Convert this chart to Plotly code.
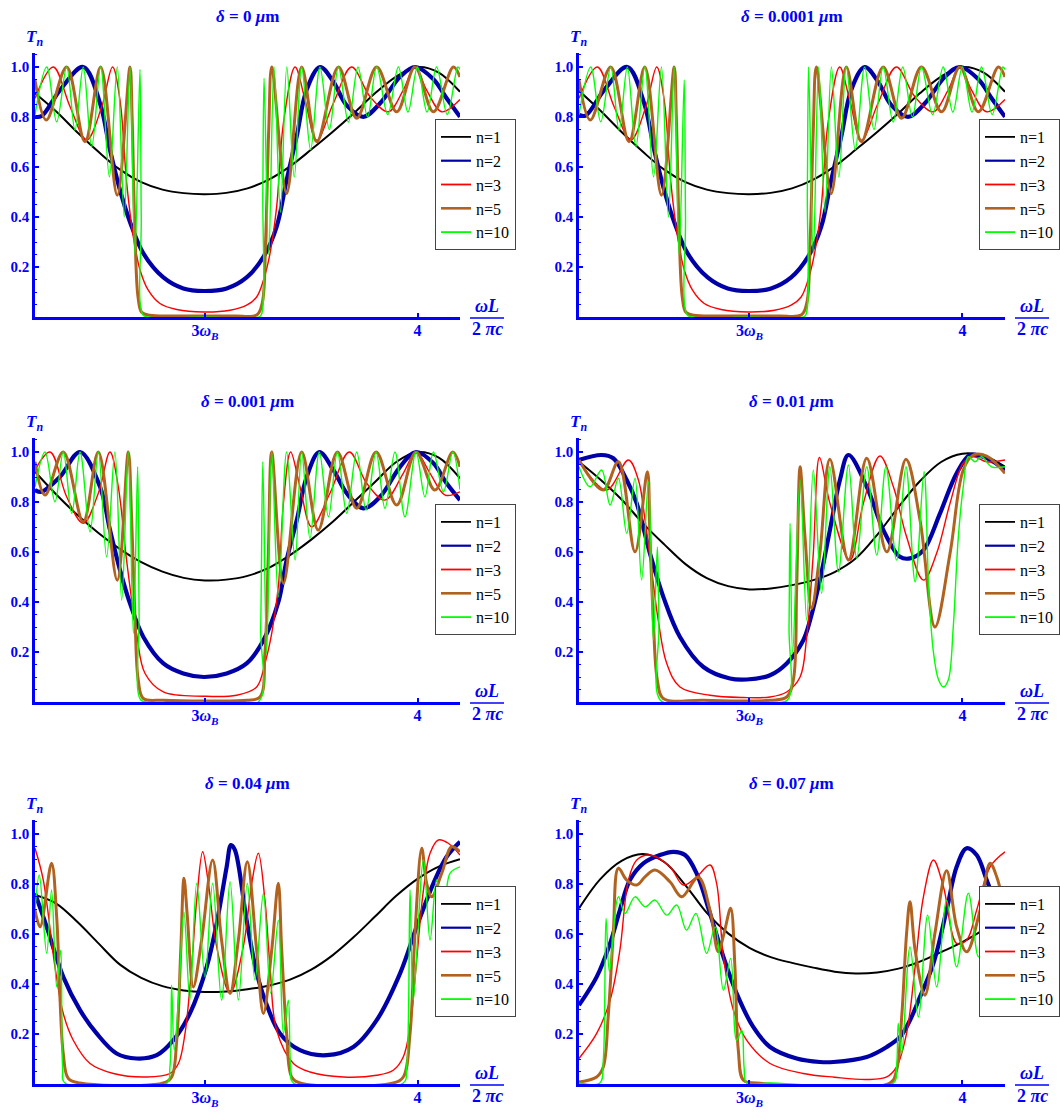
import plotly.graph_objects as go

# ---------------- data: T_n versus omega*L/(2*pi*c) ----------------
# x tick "3ω_B" sits at 3.0, tick "4" at 4.0

grid_x = [2.2, 2.3, 2.4, 2.5, 2.6, 2.7, 2.8, 2.9, 3.0, 3.1, 3.2, 3.3, 3.4, 3.5, 3.6, 3.7, 3.8, 3.9, 4.0, 4.1, 4.2]

# ----- delta = 0 um -----
d0_n1_x = grid_x
d0_n1_t = [0.895, 0.822, 0.738, 0.660, 0.590, 0.540, 0.510, 0.496, 0.492, 0.497, 0.515, 0.550, 0.603, 0.670, 0.740, 0.815, 0.895, 0.962, 1.000, 0.978, 0.901]
d0_n2_x = [2.200, 2.231, 2.318, 2.427, 2.506, 2.553, 2.600, 2.647, 2.710, 2.804, 2.898, 2.995, 3.102, 3.196, 3.275, 3.337, 3.384, 3.431, 3.478, 3.541, 3.604, 3.666, 3.745, 3.824, 3.918, 3.988, 4.075, 4.137, 4.200]
d0_n2_t = [0.801, 0.804, 0.908, 1.000, 0.855, 0.668, 0.508, 0.381, 0.255, 0.159, 0.115, 0.105, 0.115, 0.159, 0.241, 0.361, 0.548, 0.721, 0.908, 1.000, 0.941, 0.848, 0.801, 0.855, 0.961, 1.000, 0.951, 0.875, 0.801]
d0_n3_x = [2.200, 2.286, 2.365, 2.443, 2.514, 2.565, 2.600, 2.631, 2.663, 2.694, 2.733, 2.788, 2.867, 2.995, 3.118, 3.196, 3.243, 3.275, 3.306, 3.337, 3.369, 3.424, 3.471, 3.526, 3.604, 3.690, 3.777, 3.863, 3.933, 3.988, 4.043, 4.114, 4.200]
d0_n3_t = [0.875, 1.000, 0.841, 0.708, 0.841, 1.000, 0.868, 0.540, 0.320, 0.190, 0.108, 0.055, 0.031, 0.021, 0.028, 0.048, 0.081, 0.148, 0.255, 0.440, 0.775, 1.000, 0.868, 0.708, 0.855, 1.000, 0.881, 0.821, 0.908, 1.000, 0.908, 0.821, 0.870]
d0_n5_x = [2.200, 2.253, 2.349, 2.435, 2.509, 2.587, 2.647, 2.657, 2.670, 2.685, 2.702, 2.740, 2.850, 2.995, 3.140, 3.245, 3.270, 3.285, 3.300, 3.314, 3.384, 3.455, 3.526, 3.628, 3.714, 3.808, 3.902, 3.988, 4.075, 4.169, 4.200]
d0_n5_t = [0.948, 0.788, 1.000, 0.701, 1.000, 0.488, 1.000, 0.800, 0.350, 0.080, 0.020, 0.008, 0.005, 0.005, 0.005, 0.010, 0.060, 0.300, 0.750, 1.000, 0.495, 1.000, 0.701, 1.000, 0.795, 1.000, 0.821, 1.000, 0.821, 1.000, 0.960]
d0_n10_x = [2.200, 2.255, 2.302, 2.349, 2.388, 2.427, 2.467, 2.509, 2.550, 2.587, 2.620, 2.647, 2.670, 2.694, 2.700, 2.708, 2.740, 2.995, 3.250, 3.265, 3.272, 3.278, 3.300, 3.325, 3.355, 3.385, 3.420, 3.455, 3.497, 3.541, 3.585, 3.628, 3.675, 3.720, 3.765, 3.808, 3.860, 3.910, 3.955, 4.000, 4.045, 4.090, 4.140, 4.190, 4.200]
d0_n10_t = [0.810, 1.000, 0.781, 1.000, 0.748, 1.000, 0.681, 1.000, 0.561, 1.000, 0.401, 1.000, 0.250, 0.990, 0.400, 0.010, 0.000, 0.000, 0.000, 0.010, 0.500, 0.955, 0.250, 1.000, 0.420, 1.000, 0.560, 1.000, 0.670, 1.000, 0.750, 1.000, 0.780, 1.000, 0.800, 1.000, 0.810, 1.000, 0.820, 1.000, 0.820, 1.000, 0.810, 1.000, 0.990]

# ----- delta = 0.0001 um -----
d1_n1_x = grid_x
d1_n1_t = [0.905, 0.826, 0.740, 0.661, 0.590, 0.540, 0.510, 0.496, 0.492, 0.497, 0.515, 0.550, 0.603, 0.670, 0.740, 0.815, 0.895, 0.962, 1.000, 0.978, 0.901]
d1_n2_x = d0_n2_x
d1_n2_t = [0.808, 0.806, 0.908, 1.000, 0.855, 0.668, 0.508, 0.381, 0.255, 0.159, 0.115, 0.105, 0.115, 0.159, 0.241, 0.361, 0.548, 0.721, 0.908, 1.000, 0.941, 0.848, 0.801, 0.855, 0.961, 1.000, 0.951, 0.875, 0.801]
d1_n3_x = d0_n3_x
d1_n3_t = d0_n3_t
d1_n5_x = d0_n5_x
d1_n5_t = d0_n5_t
d1_n10_x = d0_n10_x
d1_n10_t = [0.810, 1.000, 0.781, 1.000, 0.748, 1.000, 0.681, 1.000, 0.561, 1.000, 0.401, 1.000, 0.250, 0.948, 0.400, 0.010, 0.000, 0.000, 0.000, 0.010, 0.500, 1.000, 0.250, 1.000, 0.420, 1.000, 0.560, 1.000, 0.670, 1.000, 0.750, 1.000, 0.780, 1.000, 0.800, 1.000, 0.810, 1.000, 0.820, 1.000, 0.820, 1.000, 0.810, 1.000, 0.990]

# ----- delta = 0.001 um -----
d2_n1_x = grid_x
d2_n1_t = [0.921, 0.830, 0.748, 0.675, 0.612, 0.560, 0.522, 0.497, 0.487, 0.490, 0.505, 0.537, 0.588, 0.650, 0.720, 0.800, 0.880, 0.960, 1.000, 0.978, 0.895]
d2_n2_x = [2.200, 2.231, 2.318, 2.412, 2.506, 2.553, 2.600, 2.647, 2.710, 2.804, 2.898, 2.995, 3.102, 3.196, 3.275, 3.345, 3.384, 3.432, 3.479, 3.538, 3.604, 3.667, 3.745, 3.824, 3.918, 3.993, 4.075, 4.137, 4.200]
d2_n2_t = [0.848, 0.841, 0.901, 1.000, 0.861, 0.688, 0.528, 0.395, 0.261, 0.155, 0.115, 0.101, 0.115, 0.155, 0.248, 0.400, 0.568, 0.728, 0.901, 1.000, 0.928, 0.835, 0.775, 0.821, 0.941, 1.000, 0.955, 0.875, 0.808]
d2_n3_x = [2.200, 2.271, 2.349, 2.427, 2.498, 2.553, 2.592, 2.631, 2.678, 2.718, 2.804, 2.995, 3.149, 3.243, 3.282, 3.314, 3.345, 3.369, 3.403, 3.447, 3.502, 3.588, 3.679, 3.761, 3.847, 3.933, 3.993, 4.059, 4.130, 4.200]
d2_n3_t = [0.928, 1.000, 0.821, 0.715, 0.835, 1.000, 0.861, 0.568, 0.275, 0.115, 0.041, 0.024, 0.028, 0.061, 0.155, 0.275, 0.461, 0.795, 1.000, 0.861, 0.701, 0.835, 1.000, 0.875, 0.808, 0.915, 1.000, 0.915, 0.828, 0.841]
d2_n5_x = [2.200, 2.247, 2.333, 2.427, 2.498, 2.587, 2.639, 2.655, 2.671, 2.686, 2.710, 2.804, 2.995, 3.196, 3.259, 3.282, 3.298, 3.314, 3.369, 3.455, 3.533, 3.623, 3.714, 3.805, 3.902, 3.993, 4.082, 4.166, 4.200]
d2_n5_t = [0.961, 0.828, 1.000, 0.721, 1.000, 0.488, 1.000, 0.728, 0.328, 0.088, 0.015, 0.008, 0.005, 0.008, 0.021, 0.195, 0.595, 1.000, 0.475, 1.000, 0.688, 1.000, 0.775, 1.000, 0.788, 1.000, 0.848, 1.000, 0.941]
d2_n10_x = [2.200, 2.247, 2.294, 2.333, 2.373, 2.412, 2.459, 2.498, 2.537, 2.576, 2.608, 2.639, 2.663, 2.683, 2.690, 2.697, 2.740, 2.995, 3.250, 3.262, 3.272, 3.290, 3.314, 3.345, 3.384, 3.424, 3.455, 3.494, 3.538, 3.581, 3.623, 3.667, 3.714, 3.758, 3.805, 3.847, 3.894, 3.941, 3.993, 4.035, 4.075, 4.122, 4.166, 4.200]
d2_n10_t = [0.861, 1.000, 0.801, 1.000, 0.755, 1.000, 0.681, 1.000, 0.581, 1.000, 0.408, 1.000, 0.275, 0.941, 0.350, 0.010, 0.000, 0.000, 0.000, 0.300, 0.961, 0.195, 1.000, 0.421, 1.000, 0.568, 1.000, 0.655, 1.000, 0.741, 1.000, 0.755, 1.000, 0.768, 1.000, 0.775, 1.000, 0.741, 1.000, 0.821, 1.000, 0.841, 1.000, 0.850]

# ----- delta = 0.01 um -----
d3_n1_x = grid_x
d3_n1_t = [0.961, 0.890, 0.810, 0.715, 0.631, 0.552, 0.496, 0.464, 0.451, 0.455, 0.468, 0.488, 0.520, 0.575, 0.669, 0.780, 0.883, 0.960, 0.993, 0.985, 0.941]
d3_n2_x = [2.200, 2.306, 2.361, 2.424, 2.471, 2.533, 2.596, 2.674, 2.784, 2.909, 2.987, 3.097, 3.175, 3.253, 3.285, 3.331, 3.378, 3.425, 3.465, 3.551, 3.629, 3.707, 3.754, 3.817, 3.895, 3.973, 4.036, 4.098, 4.145, 4.200]
d3_n2_t = [0.968, 0.988, 0.975, 0.888, 0.795, 0.595, 0.421, 0.261, 0.141, 0.095, 0.091, 0.108, 0.155, 0.248, 0.328, 0.488, 0.688, 0.888, 0.988, 0.861, 0.688, 0.581, 0.575, 0.608, 0.755, 0.915, 0.988, 0.981, 0.961, 0.928]
d3_n3_x = [2.200, 2.330, 2.432, 2.479, 2.510, 2.541, 2.572, 2.612, 2.674, 2.815, 2.972, 3.097, 3.175, 3.238, 3.269, 3.300, 3.329, 3.378, 3.472, 3.535, 3.613, 3.676, 3.738, 3.817, 3.879, 3.942, 4.004, 4.051, 4.114, 4.200]
d3_n3_t = [0.968, 0.848, 0.968, 0.888, 0.728, 0.528, 0.328, 0.155, 0.061, 0.028, 0.019, 0.021, 0.041, 0.101, 0.261, 0.595, 0.978, 0.795, 0.568, 0.795, 0.984, 0.861, 0.661, 0.488, 0.595, 0.795, 0.955, 0.981, 0.961, 0.968]
d3_n5_x = [2.200, 2.314, 2.385, 2.463, 2.521, 2.533, 2.549, 2.568, 2.596, 2.784, 3.097, 3.175, 3.206, 3.222, 3.238, 3.261, 3.292, 3.331, 3.378, 3.465, 3.551, 3.645, 3.735, 3.801, 3.871, 3.942, 4.004, 4.051, 4.114, 4.200]
d3_n5_t = [0.968, 0.848, 0.961, 0.601, 0.921, 0.661, 0.328, 0.088, 0.015, 0.008, 0.008, 0.021, 0.088, 0.461, 0.941, 0.661, 0.375, 0.595, 0.971, 0.568, 0.975, 0.601, 0.971, 0.728, 0.301, 0.595, 0.928, 0.988, 0.984, 0.915]
d3_n10_x = [2.200, 2.252, 2.306, 2.346, 2.385, 2.424, 2.463, 2.494, 2.526, 2.549, 2.568, 2.575, 2.582, 2.700, 3.100, 3.180, 3.186, 3.191, 3.203, 3.238, 3.269, 3.300, 3.339, 3.378, 3.418, 3.465, 3.504, 3.551, 3.598, 3.641, 3.691, 3.735, 3.778, 3.820, 3.842, 3.864, 3.888, 3.911, 3.934, 3.957, 3.980, 4.004, 4.028, 4.059, 4.090, 4.137, 4.200]
d3_n10_t = [0.941, 0.861, 0.928, 0.788, 0.895, 0.675, 0.895, 0.488, 0.881, 0.248, 0.621, 0.300, 0.008, 0.000, 0.000, 0.010, 0.300, 0.715, 0.195, 0.888, 0.328, 0.928, 0.435, 0.941, 0.521, 0.948, 0.575, 0.941, 0.588, 0.941, 0.568, 0.941, 0.481, 0.921, 0.450, 0.200, 0.090, 0.061, 0.090, 0.300, 0.650, 0.861, 0.981, 0.961, 0.981, 0.941, 0.941]

# ----- delta = 0.04 um -----
d4_n1_x = grid_x
d4_n1_t = [0.756, 0.722, 0.648, 0.562, 0.478, 0.425, 0.392, 0.375, 0.369, 0.371, 0.380, 0.394, 0.418, 0.458, 0.515, 0.588, 0.670, 0.753, 0.821, 0.870, 0.899]
d4_n2_x = [2.200, 2.255, 2.333, 2.412, 2.490, 2.584, 2.678, 2.773, 2.851, 2.929, 3.008, 3.055, 3.102, 3.122, 3.141, 3.195, 3.242, 3.285, 3.353, 3.447, 3.573, 3.698, 3.808, 3.918, 3.996, 4.075, 4.137, 4.200]
d4_n2_t = [0.763, 0.629, 0.429, 0.296, 0.203, 0.123, 0.103, 0.116, 0.176, 0.283, 0.469, 0.643, 0.869, 0.956, 0.936, 0.660, 0.450, 0.330, 0.203, 0.136, 0.116, 0.149, 0.256, 0.443, 0.629, 0.803, 0.909, 0.969]
d4_n3_x = [2.200, 2.239, 2.294, 2.333, 2.380, 2.459, 2.569, 2.725, 2.835, 2.875, 2.906, 2.937, 2.961, 2.989, 3.016, 3.055, 3.118, 3.180, 3.220, 3.251, 3.282, 3.306, 3.337, 3.416, 3.494, 3.651, 3.808, 3.886, 3.933, 3.965, 3.996, 4.028, 4.059, 4.098, 4.145, 4.200]
d4_n3_t = [0.943, 0.816, 0.469, 0.283, 0.176, 0.083, 0.043, 0.029, 0.043, 0.083, 0.203, 0.469, 0.736, 0.929, 0.803, 0.549, 0.363, 0.549, 0.803, 0.923, 0.736, 0.469, 0.216, 0.083, 0.049, 0.029, 0.036, 0.056, 0.109, 0.229, 0.496, 0.776, 0.923, 0.976, 0.963, 0.916]
d4_n5_x = [2.200, 2.224, 2.278, 2.302, 2.318, 2.333, 2.357, 2.412, 2.804, 2.843, 2.867, 2.886, 2.901, 2.917, 2.945, 2.984, 3.036, 3.078, 3.118, 3.157, 3.199, 3.243, 3.275, 3.314, 3.345, 3.361, 3.384, 3.408, 3.447, 3.886, 3.933, 3.965, 3.988, 4.020, 4.043, 4.067, 4.114, 4.161, 4.200]
d4_n5_t = [0.696, 0.629, 0.883, 0.669, 0.336, 0.123, 0.023, 0.005, 0.005, 0.029, 0.176, 0.536, 0.823, 0.669, 0.389, 0.576, 0.896, 0.576, 0.363, 0.576, 0.889, 0.536, 0.283, 0.536, 0.803, 0.536, 0.203, 0.029, 0.005, 0.005, 0.029, 0.203, 0.603, 0.943, 0.803, 0.749, 0.843, 0.949, 0.929]
d4_n10_x = [2.200, 2.220, 2.255, 2.278, 2.302, 2.321, 2.330, 2.341, 2.820, 2.835, 2.843, 2.855, 2.875, 2.901, 2.929, 2.961, 3.000, 3.036, 3.078, 3.118, 3.157, 3.199, 3.235, 3.275, 3.309, 3.345, 3.369, 3.392, 3.403, 3.416, 3.933, 3.949, 3.965, 3.980, 4.028, 4.059, 4.090, 4.122, 4.153, 4.200]
d4_n10_t = [0.696, 0.836, 0.523, 0.776, 0.389, 0.536, 0.069, 0.005, 0.005, 0.069, 0.396, 0.136, 0.336, 0.689, 0.336, 0.803, 0.429, 0.803, 0.336, 0.809, 0.336, 0.803, 0.416, 0.763, 0.363, 0.656, 0.203, 0.336, 0.069, 0.005, 0.005, 0.069, 0.776, 0.336, 0.896, 0.576, 0.816, 0.669, 0.843, 0.869]

# ----- delta = 0.07 um -----
d5_n1_x = grid_x
d5_n1_t = [0.703, 0.820, 0.893, 0.920, 0.888, 0.795, 0.685, 0.603, 0.545, 0.508, 0.485, 0.466, 0.450, 0.443, 0.447, 0.462, 0.490, 0.528, 0.568, 0.617, 0.660]
d5_n2_x = [2.200, 2.283, 2.346, 2.392, 2.439, 2.502, 2.580, 2.643, 2.698, 2.752, 2.815, 2.878, 2.940, 3.018, 3.097, 3.222, 3.331, 3.394, 3.551, 3.645, 3.707, 3.754, 3.801, 3.864, 3.926, 3.973, 4.020, 4.067, 4.114, 4.161, 4.200]
d5_n2_t = [0.316, 0.429, 0.563, 0.696, 0.816, 0.883, 0.916, 0.929, 0.916, 0.843, 0.683, 0.509, 0.363, 0.229, 0.149, 0.103, 0.089, 0.089, 0.109, 0.149, 0.189, 0.256, 0.349, 0.483, 0.696, 0.869, 0.943, 0.916, 0.816, 0.709, 0.629]
d5_n3_x = [2.200, 2.283, 2.346, 2.392, 2.432, 2.471, 2.533, 2.627, 2.690, 2.752, 2.815, 2.846, 2.878, 2.925, 2.987, 3.097, 3.253, 3.400, 3.551, 3.645, 3.691, 3.738, 3.778, 3.817, 3.864, 3.911, 3.973, 4.020, 4.067, 4.130, 4.200]
d5_n3_t = [0.103, 0.203, 0.336, 0.536, 0.816, 0.896, 0.916, 0.869, 0.796, 0.829, 0.876, 0.803, 0.509, 0.296, 0.176, 0.083, 0.043, 0.028, 0.019, 0.029, 0.069, 0.203, 0.469, 0.749, 0.896, 0.789, 0.563, 0.576, 0.696, 0.869, 0.929]
d5_n5_x = [2.200, 2.283, 2.314, 2.337, 2.361, 2.385, 2.424, 2.471, 2.510, 2.557, 2.627, 2.682, 2.760, 2.815, 2.854, 2.881, 2.912, 2.932, 2.948, 2.972, 3.034, 3.660, 3.691, 3.715, 3.738, 3.754, 3.778, 3.824, 3.871, 3.926, 3.973, 4.020, 4.083, 4.130, 4.161, 4.200]
d5_n5_t = [0.009, 0.029, 0.069, 0.269, 0.603, 0.863, 0.816, 0.796, 0.829, 0.856, 0.809, 0.749, 0.827, 0.696, 0.529, 0.603, 0.703, 0.469, 0.136, 0.016, 0.005, 0.005, 0.056, 0.269, 0.603, 0.729, 0.536, 0.356, 0.603, 0.853, 0.629, 0.529, 0.696, 0.883, 0.829, 0.696]
d5_n10_x = [2.200, 2.298, 2.314, 2.327, 2.343, 2.385, 2.416, 2.463, 2.510, 2.557, 2.612, 2.659, 2.705, 2.749, 2.799, 2.839, 2.878, 2.912, 2.940, 2.964, 2.975, 2.987, 3.097, 3.676, 3.691, 3.699, 3.715, 3.754, 3.793, 3.837, 3.879, 3.926, 3.973, 4.028, 4.075, 4.122, 4.161, 4.200]
d5_n10_t = [0.005, 0.005, 0.096, 0.663, 0.450, 0.749, 0.683, 0.749, 0.709, 0.736, 0.676, 0.716, 0.616, 0.683, 0.523, 0.629, 0.376, 0.503, 0.176, 0.216, 0.069, 0.005, 0.005, 0.005, 0.069, 0.243, 0.123, 0.549, 0.269, 0.676, 0.389, 0.736, 0.469, 0.763, 0.509, 0.736, 0.536, 0.696]

deltas = ["0", "0.0001", "0.001", "0.01", "0.04", "0.07"]
n_labels = ["n=1", "n=2", "n=3", "n=5", "n=10"]
x_tick_vals = [3.0, 4.0]
x_tick_text = ["<b>3<i>ω</i><sub><i>B</i></sub></b>", "<b>4</b>"]

curves = [
    [(d0_n1_x, d0_n1_t), (d0_n2_x, d0_n2_t), (d0_n3_x, d0_n3_t), (d0_n5_x, d0_n5_t), (d0_n10_x, d0_n10_t)],
    [(d1_n1_x, d1_n1_t), (d1_n2_x, d1_n2_t), (d1_n3_x, d1_n3_t), (d1_n5_x, d1_n5_t), (d1_n10_x, d1_n10_t)],
    [(d2_n1_x, d2_n1_t), (d2_n2_x, d2_n2_t), (d2_n3_x, d2_n3_t), (d2_n5_x, d2_n5_t), (d2_n10_x, d2_n10_t)],
    [(d3_n1_x, d3_n1_t), (d3_n2_x, d3_n2_t), (d3_n3_x, d3_n3_t), (d3_n5_x, d3_n5_t), (d3_n10_x, d3_n10_t)],
    [(d4_n1_x, d4_n1_t), (d4_n2_x, d4_n2_t), (d4_n3_x, d4_n3_t), (d4_n5_x, d4_n5_t), (d4_n10_x, d4_n10_t)],
    [(d5_n1_x, d5_n1_t), (d5_n2_x, d5_n2_t), (d5_n3_x, d5_n3_t), (d5_n5_x, d5_n5_t), (d5_n10_x, d5_n10_t)],
]

# ---------------- styling ----------------
W, H = 1060, 1112
BLUE = "#0000FF"
SERIF = "Liberation Serif"
line_colors = ["#000000", "#0000A8", "#FF0000", "#B0621E", "#00FF00"]
line_widths = [2.0, 4.2, 1.4, 3.0, 1.4]
legend_widths = [1.8, 2.2, 1.8, 2.6, 1.8]

col_px = [(35, 460), (579, 1005)]          # plot area left/right in pixels
row_px = [317, 702, 1084]                   # x-axis line (T=0) in pixels
PX_PER_UNIT = 250.0
Y_TOP = 1.056

def px_x(p):
    return p / W

def px_y(p):
    return (H - p) / H

fig = go.Figure()
layout = dict(
    width=W, height=H,
    margin=dict(l=0, r=0, t=0, b=0, autoexpand=False),
    paper_bgcolor="white", plot_bgcolor="white",
    showlegend=True,
)
annotations = []
shapes = []

for i in range(6):
    r, c = divmod(i, 2)
    k = i + 1
    sfx = "" if k == 1 else str(k)
    x0p, x1p = col_px[c]
    y0p = row_px[r]
    y1p = y0p - Y_TOP * PX_PER_UNIT
    leg = "legend" if k == 1 else "legend%d" % k

    for j in range(5):
        xs, ts = curves[i][j]
        fig.add_trace(go.Scatter(
            x=xs, y=ts, mode="lines", name=n_labels[j], showlegend=False,
            line=dict(color=line_colors[j], width=line_widths[j], shape="spline", smoothing=1.0),
            xaxis="x" + sfx, yaxis="y" + sfx, hoverinfo="skip",
        ))
    for j in range(5):
        # legend entries (thin sample lines, as in the reference key)
        fig.add_trace(go.Scatter(
            x=[None], y=[None], mode="lines", name=n_labels[j], showlegend=True,
            line=dict(color=line_colors[j], width=legend_widths[j]),
            xaxis="x" + sfx, yaxis="y" + sfx, legend=leg, hoverinfo="skip",
        ))

    layout["xaxis" + sfx] = dict(
        domain=[px_x(x0p), px_x(x1p)], anchor="y" + sfx, range=[2.2, 4.2],
        showline=True, linecolor=BLUE, linewidth=3, mirror=False,
        showgrid=False, zeroline=False,
        tickmode="array", tickvals=x_tick_vals, ticktext=x_tick_text,
        ticks="inside", ticklen=4, tickwidth=2, tickcolor=BLUE,
        ticklabelstandoff=-3,
        tickfont=dict(family=SERIF, size=16, color=BLUE, weight="bold"),
    )
    layout["yaxis" + sfx] = dict(
        domain=[px_y(y0p), px_y(y1p)], anchor="x" + sfx, range=[0.001, Y_TOP],
        showline=True, linecolor=BLUE, linewidth=2.5,
        showgrid=False, zeroline=False,
        tickmode="linear", tick0=0.2, dtick=0.2, tickformat=".1f",
        ticks="inside", ticklen=4, tickwidth=1.5, tickcolor=BLUE,
        tickfont=dict(family=SERIF, size=15, color=BLUE, weight="bold"),
        minor=dict(tickmode="linear", tick0=0, dtick=0.05, ticks="inside",
                   ticklen=2.5, tickwidth=1.2, tickcolor=BLUE, showgrid=False),
    )

    layout[leg] = dict(
        x=px_x(x1p - 25 if c == 0 else x1p - 26), y=px_y(y0p - 198),
        xanchor="left", yanchor="top",
        bgcolor="white", bordercolor="#444444", borderwidth=1,
        font=dict(family=SERIF, size=16, color="black"),
        tracegroupgap=0, itemwidth=30,
    )

    xc = (x0p + x1p) / 2
    annotations.append(dict(
        xref="paper", yref="paper", x=px_x(xc), y=px_y(y0p - 301),
        text="<b><i>δ</i> = %s <i>μ</i>m</b>" % deltas[i], showarrow=False,
        font=dict(family=SERIF, size=17, color=BLUE), xanchor="center", yanchor="middle",
    ))
    annotations.append(dict(
        xref="paper", yref="paper", x=px_x(x0p - 1), y=px_y(y0p - 279),
        text="<b><i>T</i><sub><i>n</i></sub></b>", showarrow=False,
        font=dict(family=SERIF, size=17, color=BLUE), xanchor="center", yanchor="middle",
    ))
    fx = x1p + 27
    annotations.append(dict(
        xref="paper", yref="paper", x=px_x(fx), y=px_y(y0p - 11),
        text="<b><i>ωL</i></b>", showarrow=False,
        font=dict(family=SERIF, size=18, color=BLUE), xanchor="center", yanchor="middle",
    ))
    annotations.append(dict(
        xref="paper", yref="paper", x=px_x(fx), y=px_y(y0p + 12),
        text="<b>2 <i>πc</i></b>", showarrow=False,
        font=dict(family=SERIF, size=18, color=BLUE), xanchor="center", yanchor="middle",
    ))
    shapes.append(dict(
        type="line", xref="paper", yref="paper",
        x0=px_x(fx - 17), x1=px_x(fx + 17), y0=px_y(y0p + 1), y1=px_y(y0p + 1),
        line=dict(color=BLUE, width=1.5),
    ))

layout["annotations"] = annotations
layout["shapes"] = shapes
fig.update_layout(**layout)
fig.write_html("out.html")
